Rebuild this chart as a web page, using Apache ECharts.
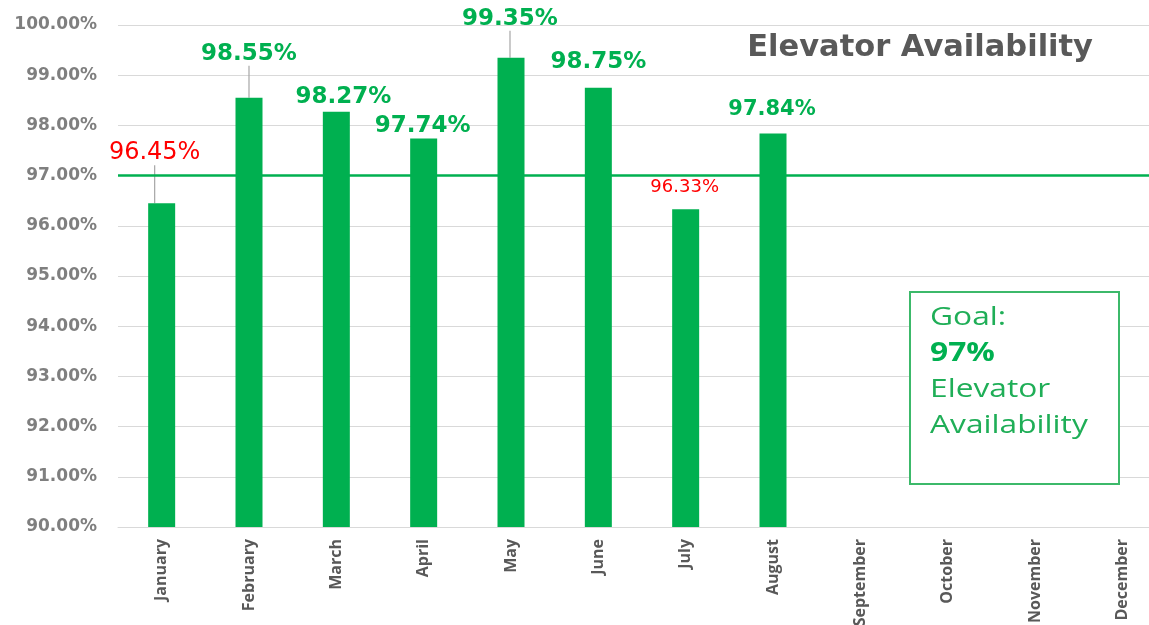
<!DOCTYPE html>
<html><head><meta charset="utf-8">
<script src="https://cdn.jsdelivr.net/npm/echarts@6/dist/echarts.min.js"></script>
<style>html,body{margin:0;padding:0;background:#fff}#c{width:1149px;height:625px}</style>
</head><body><div id="c"></div>
<script>
const months = ['January','February','March','April','May','June','July','August','September','October','November','December'];
const availability = [96.45, 98.55, 98.27, 97.74, 99.35, 98.75, 96.33, 97.84];
const goal = 97;
const yMin = 90, yMax = 100, yStep = 1;
const titleText = 'Elevator Availability';
const goalLines = ['Goal:', '97%', 'Elevator', 'Availability'];

// label placement / styling (not data)
const labelShift = [[-7,-38],[0,-32],[7,-3],[-1,-1],[-1,-27],[0,-14],[-1,-13],[-1,-13]];
const labelSize = [24,23,23,23,23,23,18,21];
const labelBold = [false,true,true,true,true,true,false,true];
const leader = [true,true,false,false,true,false,false,false];

const GREEN = '#00B050', RED = '#FF0000';

const chart = echarts.init(document.getElementById('c'), null, {renderer:'canvas'});
chart.setOption({
  animation:false,
  backgroundColor:'#fff',
  title:{text:titleText, right:51, top:28, textStyle:{fontFamily:'DejaVu Sans', fontSize:30.5, fontWeight:'bold', color:'#595959'}},
  grid:{left:118, top:25, width:1048, height:502, outerBoundsMode:'none', containLabel:false},
  xAxis:{type:'category', data:months, boundaryGap:true,
    axisTick:{show:false},
    axisLine:{lineStyle:{color:'#d9d9d9', width:1}},
    axisLabel:{rotate:90, margin:12, color:'#595959', fontFamily:'Open Sans', fontWeight:'bold', fontSize:16, interval:0}
  },
  yAxis:{type:'value', min:yMin, max:yMax, interval:yStep,
    axisLine:{show:false}, axisTick:{show:false},
    splitLine:{lineStyle:{color:'#d9d9d9', width:1}},
    axisLabel:{margin:21, color:'#7f7f7f', fontFamily:'DejaVu Sans', fontWeight:'bold', fontSize:17,
      formatter:v=>v.toFixed(2)+'%'}
  },
  series:[{
    type:'bar', barWidth:27,
    itemStyle:{color:GREEN},
    data:availability.map((v,i)=>({value:v,
      label:{color:v<goal?RED:GREEN, fontSize:labelSize[i], fontWeight:labelBold[i]?'bold':'normal'},
      labelLine:{show:leader[i]}
    })),
    label:{show:true, position:'top', distance:0, fontFamily:'DejaVu Sans',
      formatter:p=>p.value.toFixed(2)+'%'},
    labelLine:{show:false, lineStyle:{color:'#a6a6a6', width:1.2}},
    labelLayout:p=>{const s=labelShift[p.dataIndex]; return {dx:s[0], dy:s[1]};},
    markLine:{silent:true, symbol:'none', label:{show:false},
      lineStyle:{color:GREEN, width:2.5, type:'solid'},
      data:[{yAxis:goal}]}
  }],
  graphic:[{
    type:'group', left:909, top:291, z:100,
    children:[
      {type:'rect', z:100, shape:{x:0,y:0,width:209,height:192}, style:{fill:'#fff', stroke:'#3cb96a', lineWidth:2}},
      {type:'text', z:101, x:20, y:8, scaleX:1.22,
        style:{text:'{a|'+goalLines[0]+'}\n{b|'+goalLines[1]+'}\n{a|'+goalLines[2]+'}\n{a|'+goalLines[3]+'}',
          verticalAlign:'top',
          rich:{a:{fontFamily:'Open Sans', fontSize:26, lineHeight:36, fill:'#1fae57', color:'#1fae57'},
                b:{fontFamily:'Open Sans', fontSize:26, fontWeight:'bold', lineHeight:36, fill:'#00B050', color:'#00B050'}}}}
    ]
  }]
});
</script></body></html>
